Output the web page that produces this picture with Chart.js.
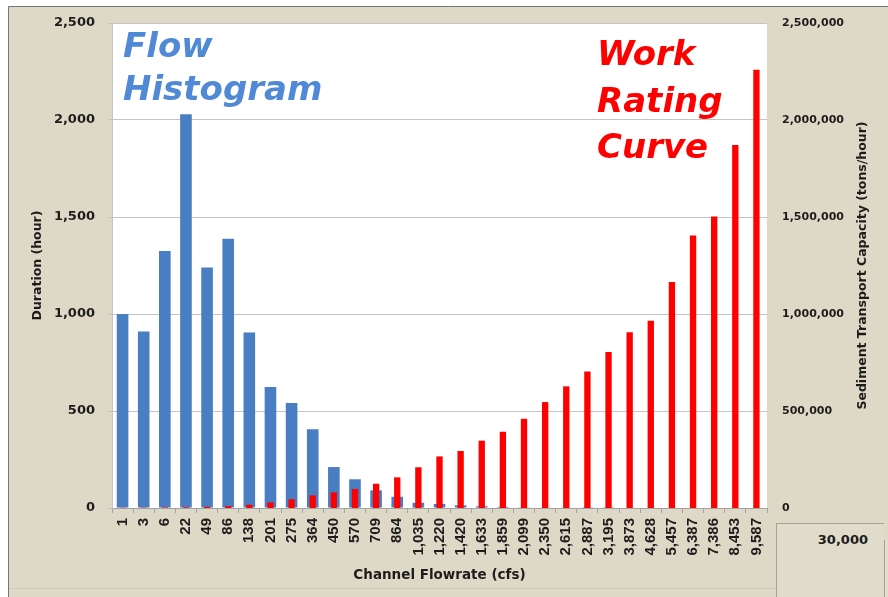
<!DOCTYPE html>
<html>
<head>
<meta charset="utf-8">
<title>Flow Histogram / Work Rating Curve</title>
<script src="https://cdn.jsdelivr.net/npm/chart.js@4/dist/chart.umd.min.js"></script>
<style>
  html, body { margin: 0; padding: 0; background: #fff; }
  #wrap { position: relative; width: 888px; height: 597px; overflow: hidden; }
  #flowChart { position: absolute; left: 0; top: 0; }
  .cell {
    position: absolute; left: 776px; top: 523px; width: 108px; height: 90px;
    border-left: 1px solid #a5a292; border-top: 1px solid #a5a292;
    background: #e0dccb;
    font: bold 13px "DejaVu Sans", sans-serif; color: #1c1c1c;
    text-align: right; box-sizing: border-box; padding: 8px 16px 0 0; line-height: 16px;
  }
  .cell-edge {
    position: absolute; left: 884px; top: 540px; width: 4px; height: 60px;
    border-left: 1px solid #a5a292; background: #e3dfcf;
  }
</style>
</head>
<body>
<div id="wrap">
  <canvas id="flowChart" width="888" height="597"></canvas>
  <div class="cell">30,000</div>
  <div class="cell-edge"></div>
</div>
<script>
// channel flowrate bins (cfs)
const flowBins = ['1', '3', '6', '22', '49', '86', '138', '201', '275', '364', '450', '570', '709', '864',
  '1,035', '1,220', '1,420', '1,633', '1,859', '2,099', '2,350', '2,615', '2,887', '3,195', '3,873',
  '4,628', '5,457', '6,387', '7,386', '8,453', '9,587'];

// hours spent in each bin
const durationHours = [1000, 910, 1325, 2030, 1240, 1388, 905, 624, 541, 406, 211, 148, 91, 58,
  27, 21, 14, 9, 6, 4, 2, 2, 1, 1, 0, 0, 0, 0, 0, 0, 0];

// sediment transport capacity at each bin (tons/hour)
const transportCapacity = [1500, 2000, 3000, 4000, 6000, 10000, 17000, 29000, 45000, 65000, 81000,
  98000, 125000, 158000, 210000, 266000, 294000, 347000, 393000, 460000, 546000, 627000, 703000,
  804000, 906000, 965000, 1165000, 1404000, 1502000, 1871000, 2259000];

const durationTicks = [0, 500, 1000, 1500, 2000, 2500];
const capacityTicks = [0, 500000, 1000000, 1500000, 2000000, 2500000];

const BEIGE = '#ddd9c6';
const INK = '#1c1c1c';

const framePlugin = {
  id: 'frame',
  beforeDraw(chart) {
    const { ctx, chartArea: a, width, height } = chart;
    ctx.save();
    ctx.fillStyle = '#ffffff';
    ctx.fillRect(0, 0, width, height);
    ctx.fillStyle = BEIGE;
    ctx.fillRect(8, 7, width - 8, height - 7);
    ctx.fillStyle = '#ffffff';
    ctx.fillRect(a.left, a.top, a.right - a.left, a.bottom - a.top);
    ctx.strokeStyle = '#767676';
    ctx.lineWidth = 1;
    ctx.beginPath();
    ctx.moveTo(8.5, height);
    ctx.lineTo(8.5, 6.5);
    ctx.lineTo(width, 6.5);
    ctx.stroke();
    ctx.strokeStyle = '#cfcab6';
    ctx.beginPath();
    ctx.moveTo(9, 588.5);
    ctx.lineTo(776, 588.5);
    ctx.stroke();
    ctx.restore();
  },
  afterDraw(chart) {
    const { ctx, chartArea: a } = chart;
    ctx.save();
    // big captions
    ctx.font = 'bold italic 34px "DejaVu Sans", sans-serif';
    ctx.textAlign = 'left';
    ctx.textBaseline = 'alphabetic';
    ctx.fillStyle = '#5089d6';
    ctx.fillText('Flow', 123, 57);
    ctx.fillText('Histogram', 123, 100);
    ctx.fillStyle = '#ff0000';
    ctx.fillText('Work', 597, 65);
    ctx.fillText('Rating', 597, 112);
    ctx.fillText('Curve', 597, 158);

    // right axis title reads bottom-to-top
    ctx.translate(863, (a.top + a.bottom) / 2);
    ctx.rotate(-Math.PI / 2);
    ctx.font = 'bold 12.5px "DejaVu Sans", sans-serif';
    ctx.fillStyle = INK;
    ctx.textAlign = 'center';
    ctx.textBaseline = 'middle';
    ctx.fillText('Sediment Transport Capacity (tons/hour)', 0, 0);
    ctx.restore();
  }
};

new Chart(document.getElementById('flowChart'), {
  type: 'bar',
  data: {
    labels: flowBins,
    datasets: [
      {
        label: 'Work Rating Curve',
        data: transportCapacity,
        yAxisID: 'y1',
        backgroundColor: '#ff0000',
        barPercentage: 0.3,
        categoryPercentage: 1,
        grouped: false,
        order: 0,
      },
      {
        label: 'Flow Histogram',
        data: durationHours,
        yAxisID: 'y',
        backgroundColor: '#4a7ec2',
        barPercentage: 0.55,
        categoryPercentage: 1,
        grouped: false,
        order: 1,
      },
    ],
  },
  options: {
    responsive: false,
    animation: false,
    devicePixelRatio: 1,
    layout: { padding: { top: 23, right: 0, bottom: 0, left: 0 } },
    plugins: { legend: { display: false }, tooltip: { enabled: false } },
    scales: {
      x: {
        afterFit: s => { s.height = 89; },
        grid: { display: true, drawOnChartArea: false, drawTicks: true, tickLength: 5, color: '#a3a3a3' },
        border: { display: true, color: '#a3a3a3' },
        ticks: {
          minRotation: 90, maxRotation: 90, autoSkip: false, padding: 5,
          color: INK, font: { family: '"Liberation Sans", Arial, sans-serif', size: 15, weight: 'bold' },
        },
        title: {
          display: true, text: 'Channel Flowrate (cfs)', color: INK,
          font: { family: '"DejaVu Sans", sans-serif', size: 13.5, weight: 'bold' },
          padding: { top: 0, bottom: 13 },
        },
      },
      y: {
        position: 'left',
        min: 0, max: 2500,
        afterFit: s => { s.width = 112; },
        afterBuildTicks: s => { s.ticks = durationTicks.map(v => ({ value: v })); },
        grid: { color: '#c4c4c4', tickLength: 4 },
        border: { display: true, color: '#c4c4c4' },
        ticks: {
          padding: 13, color: INK,
          font: { family: '"DejaVu Sans", sans-serif', size: 13, weight: 'bold' },
          callback: v => v.toLocaleString('en-US'),
        },
        title: {
          display: true, text: 'Duration (hour)', color: INK,
          font: { family: '"DejaVu Sans", sans-serif', size: 12.5, weight: 'bold' },
          padding: { top: 30, bottom: 0 },
        },
      },
      y1: {
        position: 'right',
        min: 0, max: 2500000,
        afterFit: s => { s.width = 121; },
        afterBuildTicks: s => { s.ticks = capacityTicks.map(v => ({ value: v })); },
        grid: { display: false, drawTicks: false },
        border: { display: false },
        ticks: {
          padding: 15, color: INK,
          font: { family: '"DejaVu Sans", sans-serif', size: 11, weight: 'bold' },
          callback: v => v.toLocaleString('en-US'),
        },
      },
    },
  },
  plugins: [framePlugin],
});
</script>
</body>
</html>
